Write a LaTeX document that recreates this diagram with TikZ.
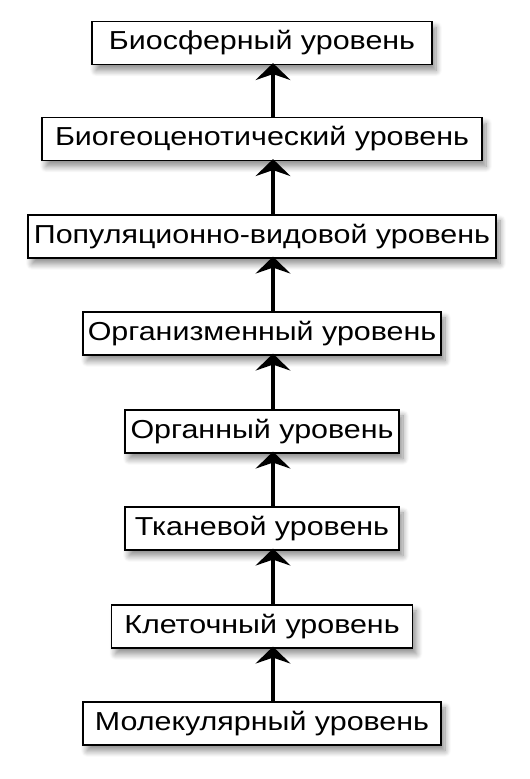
\documentclass[tikz,border=0pt]{standalone}
\usepackage{fontspec}
\setmainfont{Liberation Sans}
\newfontfamily\levelfont[FakeStretch=1.17]{Liberation Sans}
\usetikzlibrary{arrows.meta,shadows.blur}
\tikzset{
  level/.style={draw=black, line width=1.2pt, fill=white, minimum height=43pt,
    inner xsep=0pt, font=\levelfont\fontsize{26}{30}\selectfont,
    blur shadow={shadow xshift=4pt, shadow yshift=-6pt, shadow blur steps=10,
      shadow blur radius=6pt, shadow opacity=45}},
  uparrow/.style={line width=4.5pt, -{Stealth[length=17pt,width=35pt,inset=6pt]}, shorten >=-2pt}
}
\begin{document}
\begin{tikzpicture}[x=1pt,y=1pt]
\useasboundingbox (0,0) rectangle (530,779);
% levels, from top to bottom
\node[level, minimum width=340pt] (bio)  at (262,736)   {Биосферный уровень};
\node[level, minimum width=440pt] (bgc)  at (262,640)   {Биогеоценотический уровень};
\node[level, minimum width=468pt] (pop)  at (262,542.5) {Популяционно-видовой уровень};
\node[level, minimum width=358pt] (org)  at (262,445.5) {Организменный уровень};
\node[level, minimum width=274pt] (orn)  at (262,347.5) {Органный уровень};
\node[level, minimum width=274pt] (tkan) at (262,250.5) {Тканевой уровень};
\node[level, minimum width=301pt] (klet) at (262,152.5) {Клеточный уровень};
\node[level, minimum width=358pt] (mol)  at (262,55.5)  {Молекулярный уровень};
% arrows
\foreach \lo/\hi in {mol/klet, klet/tkan, tkan/orn, orn/org, org/pop, pop/bgc, bgc/bio}
  \draw[uparrow] ([xshift=11pt]\lo.north) -- ([xshift=11pt]\hi.south);
\end{tikzpicture}
\end{document}
